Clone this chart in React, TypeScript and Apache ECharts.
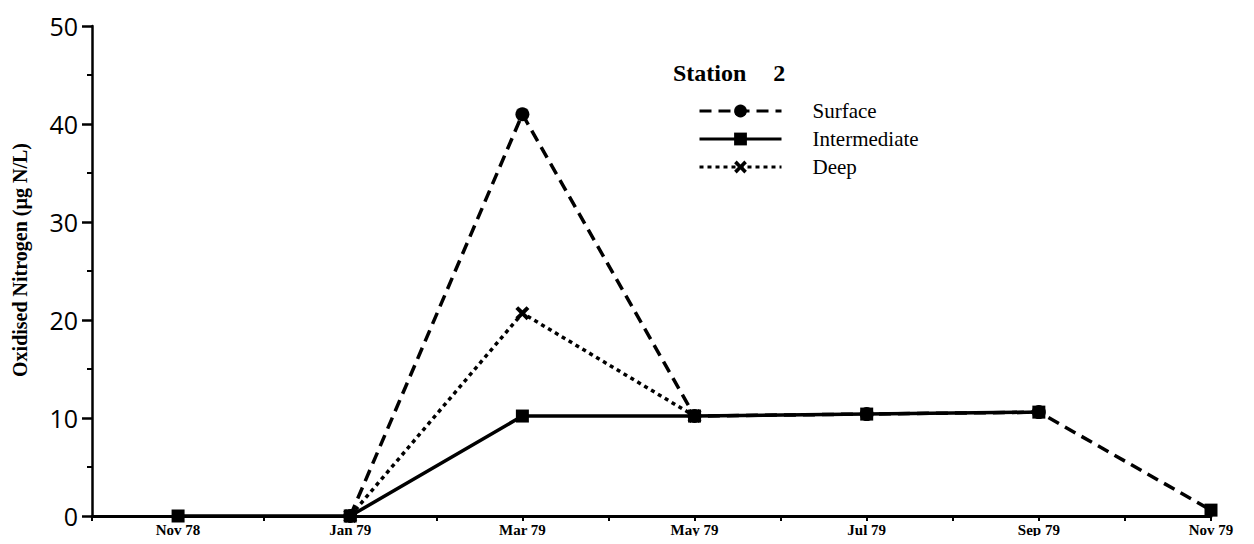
import React, { useEffect, useRef } from "react";
import * as echarts from "echarts";

// Monthly positions from Oct 78 to Nov 79; only sampled months carry a label.
const monthLabels = ["", "Nov 78", "", "Jan 79", "", "Mar 79", "", "May 79", "", "Jul 79", "", "Sep 79", "", "Nov 79"];

// Oxidised nitrogen (µg N/L) per sampling month (null = not sampled / not plotted)
const surface = [null, null, null, 0, null, 41, null, 10.2, null, 10.4, null, 10.6, null, 0.6];
const intermediate = [null, 0, null, 0, null, 10.2, null, 10.2, null, 10.4, null, 10.6, null, null];
const deep = [null, null, null, 0, null, 20.7, null, 10.2, null, null, null, null, null, null];

const yTicks = { min: 0, max: 50, interval: 10 };

const crossSymbol = "path://M0,2 L2,0 L5,3 L8,0 L10,2 L7,5 L10,8 L8,10 L5,7 L2,10 L0,8 L3,5 Z";

export default function App() {
  const ref = useRef<HTMLDivElement>(null);

  useEffect(() => {
    if (!ref.current) return;
    const chart = echarts.init(ref.current, null, { renderer: "svg" });

    // the last surface sample is drawn with a square marker
    const surfaceData = surface.map((v, i) =>
      i === surface.length - 1 && v !== null ? { value: v, symbol: "rect", symbolSize: 13 } : v
    );

    chart.setOption({
      animation: false,
      backgroundColor: "#ffffff",
      title: {
        text: "{a|Station} {b|2}",
        left: 668,
        top: 56,
        textStyle: {
          rich: {
            a: { fontFamily: "Liberation Serif", fontWeight: "bold", fontSize: 24, color: "#000" },
            b: { fontFamily: "Liberation Serif", fontWeight: "bold", fontSize: 24, color: "#000", padding: [0, 0, 0, 22] },
          },
        },
      },
      legend: {
        orient: "vertical",
        left: 693,
        top: 95,
        itemWidth: 82,
        itemHeight: 16,
        itemGap: 6,
        lineStyle: { width: 3 },
        textStyle: {
          fontFamily: "Liberation Serif",
          fontSize: 21,
          color: "#000",
          lineHeight: 22,
          padding: [0, 0, 0, 26],
        },
        data: ["Surface", "Intermediate", "Deep"],
      },
      grid: { left: 92, right: 43, top: 26, bottom: 28, containLabel: false },
      xAxis: {
        type: "category",
        data: monthLabels,
        boundaryGap: false,
        axisLine: { lineStyle: { color: "#000", width: 3 } },
        axisTick: { show: true, interval: 0, length: 5, lineStyle: { color: "#000", width: 2 } },
        axisLabel: {
          interval: 0,
          margin: 6,
          color: "#000",
          fontFamily: "Liberation Serif",
          fontWeight: "bold",
          fontSize: 15,
        },
        splitLine: { show: false },
      },
      yAxis: {
        type: "value",
        min: yTicks.min,
        max: yTicks.max,
        interval: yTicks.interval,
        axisLine: { show: true, lineStyle: { color: "#000", width: 2.5 } },
        axisTick: { show: true, length: 10, lineStyle: { color: "#000", width: 2.5 } },
        minorTick: { show: true, splitNumber: 2, length: 5, lineStyle: { color: "#000", width: 2 } },
        axisLabel: {
          margin: 14,
          color: "#000",
          fontFamily: "Open Sans",
          fontSize: 25,
        },
        splitLine: { show: false },
      },
      graphic: [
        {
          type: "text",
          x: 20,
          y: 260,
          rotation: Math.PI / 2,
          style: {
            text: "Oxidised Nitrogen (µg N/L)",
            fontFamily: "Liberation Serif",
            fontWeight: "bold",
            fontSize: 20,
            fill: "#000",
            align: "center",
            verticalAlign: "middle",
          },
        },
      ],
      series: [
        {
          name: "Surface",
          type: "line",
          data: surfaceData,
          connectNulls: true,
          symbol: "circle",
          symbolSize: 14,
          showAllSymbol: true,
          itemStyle: { color: "#000" },
          lineStyle: { color: "#000", width: 3.5, type: [12, 7] },
          z: 2,
        },
        {
          name: "Intermediate",
          type: "line",
          data: intermediate,
          connectNulls: true,
          symbol: "rect",
          symbolSize: 13,
          showAllSymbol: true,
          itemStyle: { color: "#000" },
          lineStyle: { color: "#000", width: 3.5, type: "solid" },
          z: 4,
        },
        {
          name: "Deep",
          type: "line",
          data: deep,
          connectNulls: true,
          symbol: crossSymbol,
          symbolSize: 14,
          showAllSymbol: true,
          itemStyle: { color: "#000" },
          lineStyle: { color: "#000", width: 3.5, type: [4, 4] },
          z: 3,
        },
      ],
    });

    return () => chart.dispose();
  }, []);

  return <div ref={ref} style={{ width: 1254, height: 544, margin: -8 }} />;
}
